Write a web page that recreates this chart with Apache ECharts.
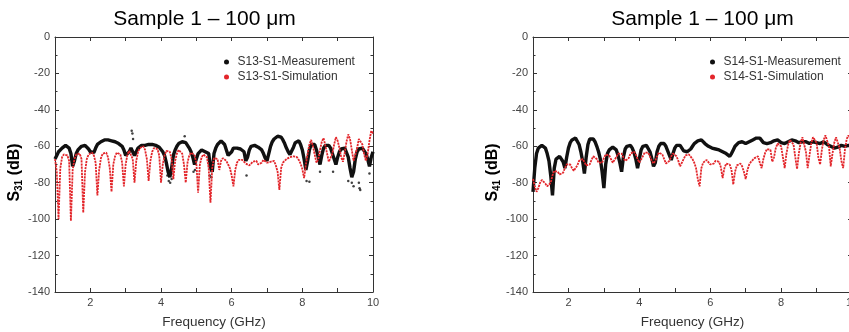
<!DOCTYPE html>
<html>
<head>
<meta charset="utf-8">
<script src="https://cdn.jsdelivr.net/npm/echarts@6/dist/echarts.min.js"></script>
<style>html,body{margin:0;padding:0;background:#fff}#c{width:849px;height:332px}</style>
</head>
<body>
<div id="c"></div>
<script>
// Frequency samples (GHz)
const freq = [1,1.05,1.1,1.15,1.2,1.25,1.3,1.35,1.4,1.45,1.5,1.55,1.6,1.65,1.7,1.75,1.8,1.85,1.9,1.95,
2,2.05,2.1,2.15,2.2,2.25,2.3,2.35,2.4,2.45,2.5,2.55,2.6,2.65,2.7,2.75,2.8,2.85,2.9,2.95,
3,3.05,3.1,3.15,3.2,3.25,3.3,3.35,3.4,3.45,3.5,3.55,3.6,3.65,3.7,3.75,3.8,3.85,3.9,3.95,
4,4.05,4.1,4.15,4.2,4.25,4.3,4.35,4.4,4.45,4.5,4.55,4.6,4.65,4.7,4.75,4.8,4.85,4.9,4.95,
5,5.05,5.1,5.15,5.2,5.25,5.3,5.35,5.4,5.45,5.5,5.55,5.6,5.65,5.7,5.75,5.8,5.85,5.9,5.95,
6,6.05,6.1,6.15,6.2,6.25,6.3,6.35,6.4,6.45,6.5,6.55,6.6,6.65,6.7,6.75,6.8,6.85,6.9,6.95,
7,7.05,7.1,7.15,7.2,7.25,7.3,7.35,7.4,7.45,7.5,7.55,7.6,7.65,7.7,7.75,7.8,7.85,7.9,7.95,
8,8.05,8.1,8.15,8.2,8.25,8.3,8.35,8.4,8.45,8.5,8.55,8.6,8.65,8.7,8.75,8.8,8.85,8.9,8.95,
9,9.05,9.1,9.15,9.2,9.25,9.3,9.35,9.4,9.45,9.5,9.55,9.6,9.65,9.7,9.75,9.8,9.85,9.9,9.95,
10];

// S31 (left panel)
const s13Meas = [-67,-65,-63,-62,-61,-60,-59.5,-59.5,-61,-64,-71,-68,-64,-62,-61,-60,-59.5,-59.5,-60,-61.5,
-63,-64,-63.5,-61,-59,-58,-57.5,-57,-56.5,-56.5,-56.5,-57,-57,-57.5,-57.5,-58,-58.5,-59,-60,-62,
-65,-66,-63,-61,-62,-65,-63,-61,-60,-59.5,-59.5,-59.5,-59,-59,-59,-59,-59,-59.5,-60,-60.5,
-61.5,-63,-65,-69,-74,-77,-72,-65,-62,-60,-58.5,-58,-57.5,-57.5,-58,-59,-61,-63,-66,-70,
-67,-64,-63,-62,-62.5,-63,-62.5,-64,-72,-74,-64,-61,-59,-58,-57,-57,-59,-62,-65,-66,
-63,-61,-60.5,-61,-62,-61.5,-61,-63,-68,-66,-62,-60,-59,-59.5,-60,-60.5,-61,-62,-64,-66.5,
-68,-64,-60,-57.5,-56,-55,-54.5,-54.5,-55,-56.5,-58.5,-61,-63,-64.5,-64,-60.5,-58,-57,-57,-59,
-62,-67,-73,-68,-62,-59,-58.5,-59,-62,-66,-70,-65,-61,-59.5,-59,-59.5,-61,-64,-67,-70,
-66,-63,-61.5,-61,-61,-62,-66,-72,-77,-74,-67,-63,-61.5,-61,-61,-62,-64,-67,-71,-66,
-63];
const s13MeasScatter = [[3.17,-51.5],[3.19,-53],[3.21,-56],[4.67,-54.5],[4.18,-76],[4.22,-79],[4.26,-80],[4.3,-78],
[4.92,-74],[4.96,-73],[5.38,-76],[5.42,-77],[6.42,-76],[8.12,-79],[8.2,-79.5],[8.5,-74],[8.87,-74],
[9.3,-79],[9.4,-80],[9.45,-82],[9.6,-80],[9.62,-83],[9.64,-84],[9.9,-75]];
const s13Sim = [-67,-74,-100,-72,-66,-64.5,-64,-65,-68,-101,-73,-67,-64.5,-63.5,-64,-67,-96.5,-74,-67,-64.5,
-63.5,-63.5,-65,-69,-87,-73,-66.5,-64,-63,-63.5,-66,-72,-85,-70,-65.5,-63.5,-63,-64.5,-69,-82,
-70,-64.5,-62.5,-63,-67,-80,-68,-63,-61,-60,-60,-62,-67,-79,-68,-63,-61,-60.5,-61.5,-65,
-80,-70,-65,-62.5,-62,-63,-67,-78,-68,-64,-62,-62,-64,-70,-80,-69,-65,-63.5,-63.5,-65,
-69,-85.5,-70,-66,-64.5,-64.5,-66,-72,-91,-72,-66.5,-65.5,-67,-73,-68,-66.5,-67,-68,-70,-72,
-76,-82,-73,-69,-67.5,-67,-67.5,-68.5,-69.5,-70,-70.5,-70,-68.5,-67.5,-68,-70,-71,-69,-67.5,-68,
-69,-69.5,-68.5,-67.5,-68,-70.5,-74,-84,-72,-69,-68,-67,-66.5,-66,-65.5,-65.5,-65.5,-66,-67.5,-69.5,
-72.5,-77.5,-70,-64,-59,-56.5,-60,-64.5,-69,-67,-62,-57.5,-55.5,-59.5,-64,-68.5,-69,-64,-59,-55,
-57,-61,-66,-68.5,-63.5,-57.5,-53.5,-56,-62,-68,-67,-61,-56,-55,-59,-64.5,-68,-64,-57,-51.5,
-53];

// S41 (right panel)
const s14Meas = [-85,-72,-64,-61,-60,-59.5,-59.5,-61,-64,-68,-76,-87,-72,-67,-66,-65.5,-66.5,-68.5,-72,-66,
-61,-58,-56.5,-55.5,-55.5,-56.5,-59,-63,-68,-75,-66,-59,-56,-55.5,-56,-57.5,-60,-63,-67,-74,
-83,-70,-64,-62,-61,-60.5,-60.5,-62,-65,-69,-74,-66,-61.5,-60,-59.5,-59.5,-61,-63.5,-67,-72,
-67,-62,-60,-59.5,-59.5,-60.5,-63,-66.5,-71,-69,-63,-60,-58.5,-58,-58.5,-60,-62.5,-65,-67.5,-64,
-61,-59.5,-59,-59.5,-61,-62.5,-62.5,-63,-62.5,-61.5,-60,-58.5,-57.5,-57,-56.5,-56.5,-57.5,-58.5,-59.5,-60,
-60.5,-61,-61.5,-61.5,-61.5,-62,-62.5,-63,-63.5,-64,-64.5,-65.5,-64,-62,-60,-59,-58,-57.5,-57.5,-58,
-58.5,-58,-57.5,-57,-56.5,-56,-55.5,-55.5,-55.5,-56.5,-58,-58.5,-58.5,-58.5,-58,-57.5,-57,-56.5,-56.5,-57,
-58,-58.5,-58.5,-58,-57.5,-57,-56.5,-56.5,-57,-57.5,-58,-58,-57.5,-57,-57.5,-58,-58.5,-58,-57.5,-57.5,
-58,-58.5,-58.5,-58,-57.5,-58,-59,-59.5,-60,-60.5,-61,-61,-60.5,-60,-59.5,-59.5,-60,-60,-59.5,-59.5,
-60];
const s14Sim = [-78,-82,-85,-83,-80,-78.5,-79,-80.5,-82,-82.5,-80,-76,-73.5,-73,-74,-75.5,-76,-74.5,-72,-70,
-69.5,-70,-72,-73.5,-73,-70.5,-68,-67,-67,-68.5,-70.5,-71.5,-70,-67.5,-65.5,-65.5,-67,-69,-70,-69,
-66.5,-64.5,-64,-65,-67,-69,-68.5,-66,-64,-63.5,-64,-66,-68,-68.5,-66.5,-64,-63,-63,-64.5,-67,
-69,-68,-65.5,-63.5,-63,-63.5,-65.5,-68,-69.5,-68,-65.5,-63.5,-63.5,-64.5,-67,-69.5,-70.5,-68,-65.5,-64,
-64,-65.5,-68,-71,-70,-67,-65,-64.5,-64.5,-65.5,-67,-69,-72,-78,-82,-72,-69,-68,-67.5,-68.5,
-70,-71,-69.5,-68,-67.5,-68.5,-71.5,-77.5,-72,-69.5,-69,-70,-73,-81,-74,-70.5,-69.5,-69.5,-71,-74,
-78,-73,-70,-68.5,-67.5,-66.5,-65.5,-65.5,-69,-72,-67,-63.5,-61.5,-61,-62,-68.5,-66,-61,-58.5,-58,
-60,-66,-72,-64,-59,-56.5,-55.5,-59,-66,-72.5,-64,-58,-55,-56,-63,-72,-65,-58.5,-55,-54.5,
-58,-66,-70,-62,-56.5,-54,-54,-60,-71,-64,-58,-55,-55.5,-61,-68,-72,-62,-56,-54,-56,
-62];

const xTicks = [2,4,6,8,10];
const yTicks = [0,-20,-40,-60,-80,-100,-120,-140];
const titles = ['Sample 1 \u2013 100 \u03bcm','Sample 1 \u2013 100 \u03bcm'];
const names = [['S13-S1-Measurement','S13-S1-Simulation'],['S14-S1-Measurement','S14-S1-Simulation']];

const FONT = '"Liberation Sans", Arial, Helvetica, sans-serif';
const pairs = (arr) => freq.map((f, i) => [f, arr[i]]);
const AX = '#333';

function xAx(grid, pos) {
  return {
    type: 'value', gridIndex: grid, position: pos, min: 1, max: 10, interval: 1,
    name: pos === 'bottom' ? 'Frequency (GHz)' : '', nameLocation: 'middle', nameGap: 23,
    nameTextStyle: {fontFamily: FONT, fontSize: 13.5, color: '#333'},
    axisLine: {show: true, onZero: false, lineStyle: {color: AX, width: 1}},
    axisTick: {show: true, inside: true, length: 4, lineStyle: {color: AX}},
    axisLabel: {show: pos === 'bottom', margin: 5, fontFamily: FONT, fontSize: 11, color: '#444',
      hideOverlap: false, formatter: v => xTicks.indexOf(v) >= 0 ? String(v) : ''},
    splitLine: {show: false}
  };
}
function yAx(grid, pos, sub) {
  return {
    type: 'value', gridIndex: grid, position: pos, min: -140, max: 0, interval: 20,
    name: pos === 'left' ? '{s|S}{sub|' + sub + '}{s| (dB)}' : '', nameLocation: 'middle', nameGap: 27,
    nameTextStyle: {padding: [0, 16, 0, 0], rich: {
      s: {fontFamily: FONT, fontSize: 16, fontWeight: 'bold', color: '#000', lineHeight: 18},
      sub: {fontFamily: FONT, fontSize: 10, fontWeight: 'bold', color: '#000', lineHeight: 10, verticalAlign: 'bottom'}
    }},
    axisLine: {show: true, onZero: false, lineStyle: {color: AX, width: 1}},
    axisTick: {show: true, inside: true, length: 4, lineStyle: {color: AX}},
    minorTick: {show: true, splitNumber: 2, length: 2.5, lineStyle: {color: AX}},
    axisLabel: {show: pos === 'left', margin: 5, fontFamily: FONT, fontSize: 11, color: '#444',
      formatter: v => yTicks.indexOf(v) >= 0 ? String(v) : ''},
    splitLine: {show: false}
  };
}
function legend(left, idx) {
  return {
    data: [{name: names[idx][0], icon: 'circle'}, {name: names[idx][1], icon: 'circle'}],
    orient: 'vertical', left: left, top: 54.5, padding: 0, itemGap: 0,
    itemWidth: 12, itemHeight: 5, selectedMode: false,
    textStyle: {fontFamily: FONT, fontSize: 12, color: '#333', lineHeight: 15}
  };
}
const RED = '#e3262b', BLK = '#111';
function meas(name, g, data) {
  return {type: 'line', name: name, xAxisIndex: g * 2, yAxisIndex: g * 2, data: data, showSymbol: false,
    symbol: 'circle', lineStyle: {color: BLK, width: 3.4}, itemStyle: {color: BLK}, z: 2, silent: true};
}
function sim(name, g, data) {
  return {type: 'line', name: name, xAxisIndex: g * 2, yAxisIndex: g * 2, data: data, showSymbol: false,
    symbol: 'circle', lineStyle: {color: RED, width: 1.8, type: [2.2, 0.9]}, itemStyle: {color: RED}, z: 3, silent: true};
}

const chart = echarts.init(document.getElementById('c'), null, {renderer: 'canvas'});
chart.setOption({
  animation: false,
  backgroundColor: '#fff',
  title: [
    {text: titles[0], left: 204.5, top: 9, textAlign: 'center', padding: 0,
      textStyle: {fontFamily: FONT, fontSize: 21, fontWeight: 'normal', color: '#000'}},
    {text: titles[1], left: 702.5, top: 9, textAlign: 'center', padding: 0,
      textStyle: {fontFamily: FONT, fontSize: 21, fontWeight: 'normal', color: '#000'}}
  ],
  legend: [legend(224, 0), legend(710, 1)],
  grid: [
    {left: 55, top: 37, width: 318, height: 255, outerBoundsMode: 'none', containLabel: false},
    {left: 533, top: 37, width: 319, height: 255, outerBoundsMode: 'none', containLabel: false}
  ],
  xAxis: [xAx(0, 'bottom'), xAx(0, 'top'), xAx(1, 'bottom'), xAx(1, 'top')],
  yAxis: [yAx(0, 'left', '31'), yAx(0, 'right', '31'), yAx(1, 'left', '41'), yAx(1, 'right', '41')],
  series: [
    meas(names[0][0], 0, pairs(s13Meas)),
    {type: 'scatter', name: 'm13', xAxisIndex: 0, yAxisIndex: 0, data: s13MeasScatter, symbolSize: 2.5,
      itemStyle: {color: BLK}, z: 2, silent: true},
    sim(names[0][1], 0, pairs(s13Sim)),
    meas(names[1][0], 1, pairs(s14Meas)),
    sim(names[1][1], 1, pairs(s14Sim))
  ]
});
</script>
</body>
</html>
